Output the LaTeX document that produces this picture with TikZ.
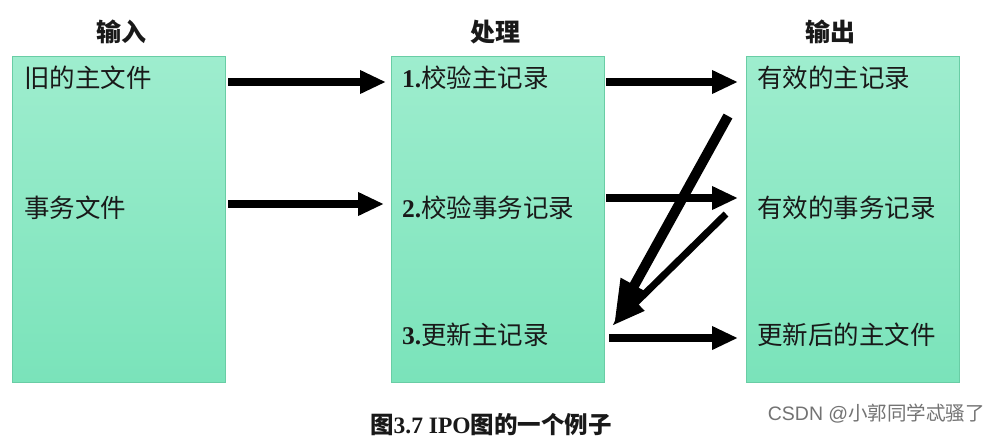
\documentclass[tikz,border=0pt]{standalone}
\usepackage{fontspec}
\setmainfont{Liberation Serif}
\newfontfamily\cjk{Noto Sans CJK SC}
\newfontfamily\wm{Liberation Sans}
\usetikzlibrary{arrows.meta,calc}
\definecolor{boxtop}{RGB}{158,237,206}
\definecolor{boxbot}{RGB}{122,227,186}
\definecolor{boxedge}{RGB}{105,205,165}
\definecolor{txt}{RGB}{25,25,25}
\begin{document}
\begin{tikzpicture}[x=1pt,y=-1pt,
  box/.style={draw=boxedge, line width=0.8pt, top color=boxtop, bottom color=boxbot,
    minimum width=213pt, minimum height=326pt, inner sep=0pt},
  lbl/.style={anchor=west, inner sep=0pt, font=\fontsize{25.5}{28}\selectfont, text=txt},
  hdr/.style={inner sep=0pt, font=\cjk\bfseries\fontsize{25}{28}\selectfont, text=txt},
  flow/.style={line width=8pt, -{Triangle[length=26pt,width=22pt]}, black},
  back/.style={flow, -{Triangle[length=42pt,width=28pt]}}
]
\path[fill=white] (0,0) rectangle (990,440);
\useasboundingbox (0,0) rectangle (990,440);

% headers
\node[hdr] (h1) at (121,32) {输入};
\node[hdr] (h2) at (495,32) {处理};
\node[hdr] (h3) at (830,32) {输出};

% boxes
\node[box] (in)  at (118.5,219) {};
\node[box] (pr)  at (498,219) {};
\node[box] (out) at (852.5,219) {};

% input labels
\node[lbl] (i1) at (24,78)  {\cjk 旧的主文件};
\node[lbl] (i2) at (24,208) {\cjk 事务文件};
% process labels
\node[lbl] (p1) at (402,78)  {\textbf{1.}\cjk 校验主记录};
\node[lbl] (p2) at (402,208) {\textbf{2.}\cjk 校验事务记录};
\node[lbl] (p3) at (402,335) {\textbf{3.}\cjk 更新主记录};
% output labels
\node[lbl] (o1) at (757,78)  {\cjk 有效的主记录};
\node[lbl] (o2) at (757,208) {\cjk 有效的事务记录};
\node[lbl] (o3) at (757,335) {\cjk 更新后的主文件};

% connector end points
\coordinate (a1s) at (228,82);  \coordinate (a1e) at (386,82);
\coordinate (a2s) at (228,204); \coordinate (a2e) at (384,204);
\coordinate (b1s) at (606,82);  \coordinate (b1e) at (738,82);
\coordinate (b2s) at (606,198); \coordinate (b2e) at (738,198);
\coordinate (b3s) at (609,338); \coordinate (b3e) at (738,338);
\coordinate (c1s) at (728,116); \coordinate (c1e) at (614,322);
\coordinate (c2s) at (726,214); \coordinate (c2e) at (612,326);

\draw[flow] (a1s) -- (a1e);
\draw[flow] (a2s) -- (a2e);
\draw[flow] (b1s) -- (b1e);
\draw[flow] (b2s) -- (b2e);
\draw[flow] (b3s) -- (b3e);
\draw[back, line width=10pt] (c1s) -- (c1e);
\draw[back, line width=7pt, -{Triangle[length=34pt,width=22pt]}] (c2s) -- (c2e);

% caption
\node[inner sep=0pt, font=\fontsize{23.5}{26}\selectfont\bfseries, text=txt] (cap) at (491,425)
  {{\cjk 图}3.7 IPO{\cjk 图的一个例子}};
\node[inner sep=0pt, anchor=east, font=\fontsize{19.5}{22}\selectfont, text=black!55] (wmk) at (985,414)
  {{\wm CSDN @}{\cjk 小郭同学忒骚了}};
\end{tikzpicture}
\end{document}
